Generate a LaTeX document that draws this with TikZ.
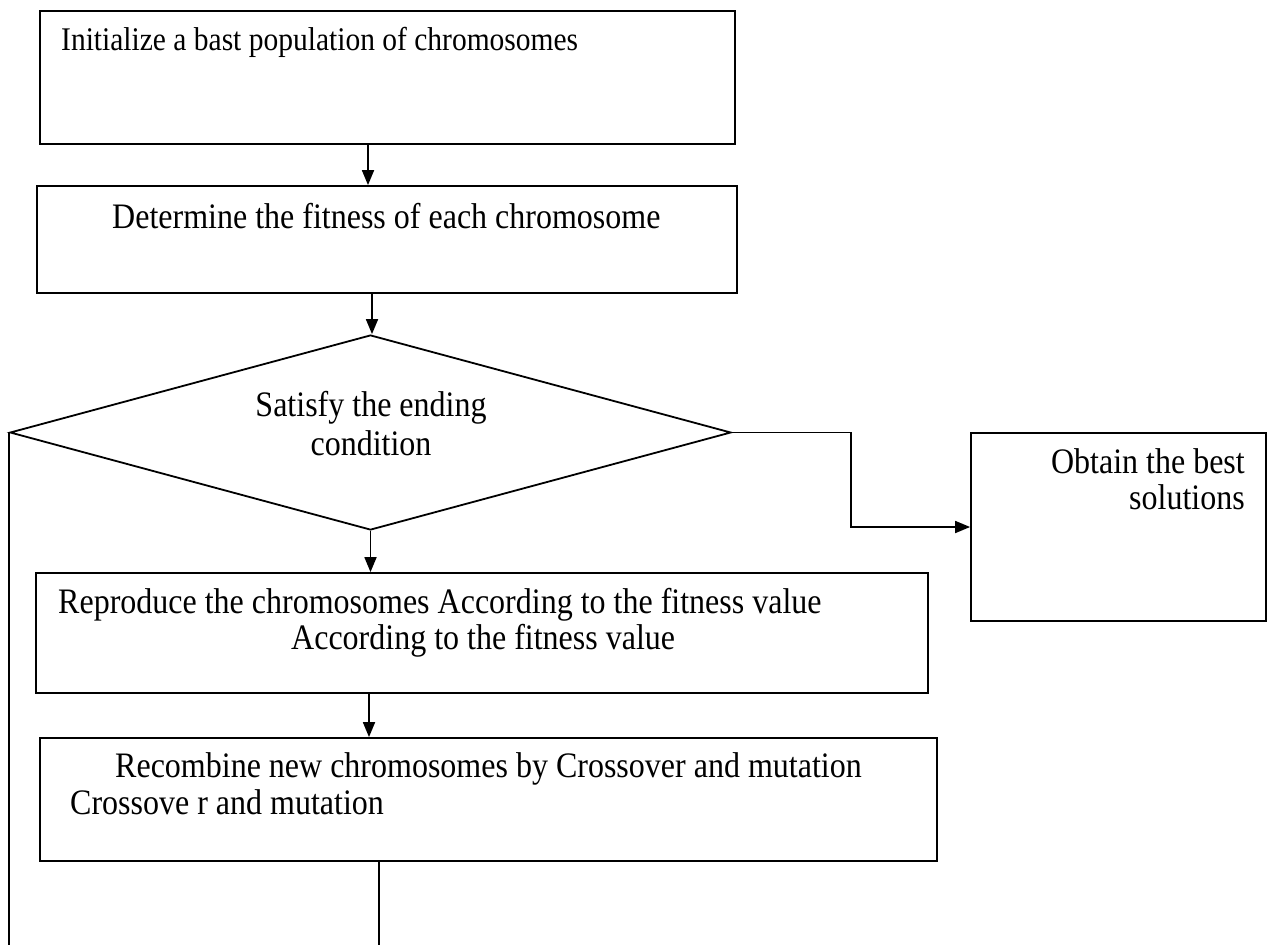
\documentclass[tikz,border=0pt]{standalone}
\usepackage{fontspec}
\usepackage{graphicx}
\setmainfont{Liberation Serif}
\usetikzlibrary{shapes.geometric,arrows.meta}
\newcommand\tallT[1]{\scalebox{1}[1.12]{#1}}
\begin{document}
\begin{tikzpicture}[x=1pt,y=-1pt,
  box/.style={draw,line width=1.8pt,rectangle,inner sep=0pt},
  txt/.style={inner sep=0pt,font=\fontsize{32}{38}\selectfont},
  arr/.style={line width=1.8pt,-{Triangle[length=15pt,width=12pt]}},
  ln/.style={line width=1.8pt}]
\useasboundingbox (0,0) rectangle (1268,945);
% boxes
\node[box,minimum width=695pt,minimum height=133pt] (b1) at (387.5,77.5) {};
\node[box,minimum width=700pt,minimum height=107pt] (b2) at (387,239.5) {};
\node[draw,line width=1.8pt,diamond,inner sep=0pt,minimum width=721pt,minimum height=195pt] (dec) at (370.5,432.5) {};
\node[box,minimum width=295pt,minimum height=188pt] (b5) at (1118.5,527) {};
\node[box,minimum width=892pt,minimum height=120pt] (b3) at (482,633) {};
\node[box,minimum width=897pt,minimum height=123pt] (b4) at (488.5,799.5) {};
% texts
\node[txt,anchor=base west,font=\fontsize{29.5}{35}\selectfont] (t1) at (61,50) {\tallT{Initialize a bast population of chromosomes}};
\node[txt,anchor=base west] (t2) at (112,228) {\tallT{Determine the fitness of each chromosome}};
\node[txt,anchor=base] (t3a) at (371,416) {\tallT{Satisfy the ending}};
\node[txt,anchor=base] (t3b) at (371,455) {\tallT{condition}};
\node[txt,anchor=base east] (t5a) at (1245,473) {\tallT{Obtain the best}};
\node[txt,anchor=base east] (t5b) at (1245,509) {\tallT{solutions}};
\node[txt,anchor=base west] (t4a) at (58,613) {\tallT{Reproduce the chromosomes According to the fitness value}};
\node[txt,anchor=base west] (t4b) at (291,649) {\tallT{According to the fitness value}};
\node[txt,anchor=base west] (t6a) at (115,777) {\tallT{Recombine new chromosomes by Crossover and mutation}};
\node[txt,anchor=base west] (t6b) at (70,814) {\tallT{Crossove r and mutation}};
% free ends
\coordinate (endL) at (10,945);
\coordinate (endB) at (379,945);
% connectors
\draw[arr] (b1.south -| 368,0) -- (b2.north -| 368,0);
\draw[arr] (b2.south -| 372,0) -- (dec.north -| 372,0);
\draw[arr] (dec.south) -- (b3.north -| dec.south);
\draw[arr] (b3.south -| 369,0) -- (b4.north -| 369,0);
\draw[arr] (dec.east) -- ++(119,0) |- (b5.west);
\draw[ln] (dec.west) -- (dec.west |- endL);
\draw[ln] (b4.south -| endB) -- (endB);
\end{tikzpicture}
\end{document}
